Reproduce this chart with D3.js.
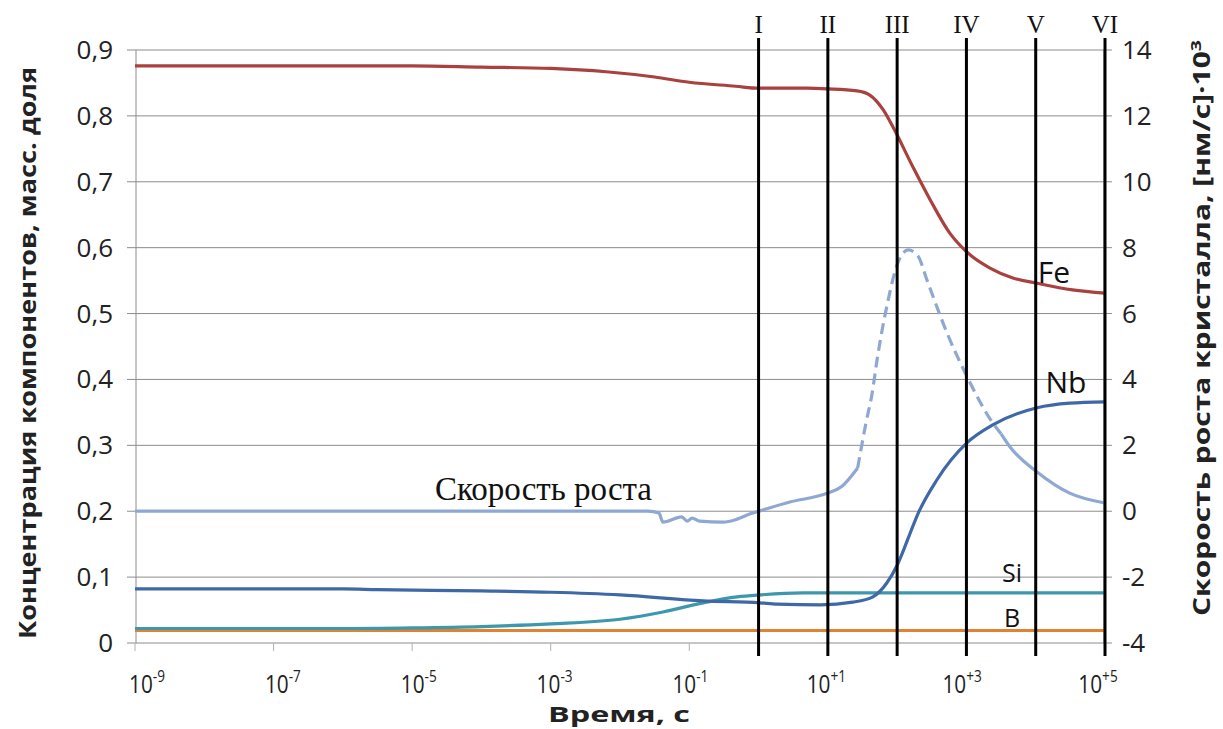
<!DOCTYPE html>
<html>
<head>
<meta charset="utf-8">
<script src="https://cdn.jsdelivr.net/npm/d3@7"></script>
<style>
  body { margin: 0; background: #fff; }
  svg { font-family: "Open Sans", "Noto Sans", sans-serif; }
</style>
</head>
<body>
<div id="chart"></div>
<script>
// Данные (время в виде показателя степени: t = 10^e)
const xTickExp = [-9, -7, -5, -3, -1, 1, 3, 5];
const xTickSup = ["-9", "-7", "-5", "-3", "-1", "+1", "+3", "+5"];
const yLeftTicks = [0, 0.1, 0.2, 0.3, 0.4, 0.5, 0.6, 0.7, 0.8, 0.9];
const yRightTicks = [-4, -2, 0, 2, 4, 6, 8, 10, 12, 14];

const stageNames = ["I", "II", "III", "IV", "V", "VI"];
const stageExp = [0, 1, 2, 3, 4, 5];

const feExp = [-9, -5, -4, -3, -2.2, -1.5, -1, -0.33, 0, 0.7, 1, 1.42, 1.6, 1.8, 1.94, 2.23, 2.48, 2.76, 3.01, 3.34, 3.67, 4.02, 4.53, 5];
const feVal = [0.876, 0.876, 0.874, 0.872, 0.867, 0.859, 0.851, 0.845, 0.842, 0.842, 0.841, 0.838, 0.832, 0.809, 0.783, 0.722, 0.672, 0.622, 0.593, 0.569, 0.554, 0.546, 0.536, 0.531];

const nbExp = [-9, -6, -5.5, -4, -3, -2, -0.8, 0.02, 0.27, 0.89, 1.36, 1.65, 1.85, 2.0, 2.1, 2.2, 2.3, 2.57, 3.01, 3.38, 4.02, 4.49, 5];
const nbVal = [0.082, 0.082, 0.081, 0.079, 0.077, 0.073, 0.064, 0.061, 0.059, 0.058, 0.062, 0.070, 0.091, 0.118, 0.143, 0.170, 0.196, 0.247, 0.304, 0.331, 0.357, 0.364, 0.366];

const siExp = [-9, -6, -5, -4, -3, -2, -1.38, -0.8, -0.31, 0.02, 0.64, 1, 2, 3, 4, 5];
const siVal = [0.022, 0.022, 0.023, 0.025, 0.029, 0.036, 0.047, 0.061, 0.070, 0.073, 0.076, 0.076, 0.076, 0.076, 0.076, 0.076];

const bExp = [-9, 5];
const bVal = [0.019, 0.019];

// Скорость роста (правая ось): сплошная, пунктир, сплошная
const speedExpA = [-9, -1.6, -1.44, -1.38, -1.11, -1.03, -0.96, -0.85, -0.51, -0.31, -0.12, 0.02, 0.45, 1.0, 1.2, 1.43];
const speedValA = [0, 0, -0.05, -0.33, -0.17, -0.3, -0.21, -0.3, -0.33, -0.24, -0.08, 0.01, 0.28, 0.55, 0.75, 1.31];
const speedExpB = [1.43, 1.55, 1.64, 1.71, 1.87, 2.01, 2.16, 2.3, 2.43, 2.72, 3.01, 3.38, 3.5];
const speedValB = [1.31, 2.68, 3.59, 4.59, 6.41, 7.54, 7.93, 7.75, 7.02, 5.41, 4.08, 2.68, 2.35];
const speedExpC = [3.5, 3.63, 4.02, 4.49, 5];
const speedValC = [2.35, 1.95, 1.19, 0.55, 0.25];

// Размеры
const width = 1223;
const height = 729;
const plotLeft = 135, plotRight = 1105, plotTop = 50, plotBottom = 643;

const svg = d3.select("#chart").append("svg")
  .attr("width", width)
  .attr("height", height);

const x = d3.scaleLog().domain([1e-9, 1e5]).range([plotLeft, plotRight]);
const yL = d3.scaleLinear().domain([0, 0.9]).range([plotBottom, plotTop]);
const yR = d3.scaleLinear().domain([-4, 14]).range([plotBottom, plotTop]);
// подписи оси X в исходнике расставлены чуть плотнее делений
const xLabelPos = d3.scaleLinear().domain([-9, 5]).range([147, 1098]);

// Сетка и оси
svg.append("g")
  .selectAll("line")
  .data(yLeftTicks)
  .enter()
  .append("line")
  .attr("x1", plotLeft - 8)
  .attr("x2", plotRight + 7)
  .attr("y1", d => yL(d))
  .attr("y2", d => yL(d))
  .attr("stroke", "#8c8c8c")
  .attr("stroke-width", 1);

svg.append("line")
  .attr("x1", plotLeft + 1).attr("x2", plotLeft + 1)
  .attr("y1", plotTop).attr("y2", plotBottom)
  .attr("stroke", "#8c8c8c");

svg.append("line")
  .attr("x1", plotRight - 1).attr("x2", plotRight - 1)
  .attr("y1", plotTop).attr("y2", plotBottom)
  .attr("stroke", "#8c8c8c");

svg.append("g")
  .selectAll("line")
  .data(xTickExp)
  .enter()
  .append("line")
  .attr("x1", d => x(Math.pow(10, d)))
  .attr("x2", d => x(Math.pow(10, d)))
  .attr("y1", plotBottom)
  .attr("y2", plotBottom + 8)
  .attr("stroke", "#b0b0b0");

// Подписи осей
svg.append("g")
  .selectAll("text")
  .data(yLeftTicks)
  .enter()
  .append("text")
  .attr("x", 113)
  .attr("y", d => yL(d) + 9)
  .attr("text-anchor", "end")
  .attr("font-size", 26)
  .attr("fill", "#222")
  .text(d => d === 0 ? "0" : String(d.toFixed(1)).replace(".", ","));

svg.append("g")
  .selectAll("text")
  .data(yRightTicks)
  .enter()
  .append("text")
  .attr("x", 1122)
  .attr("y", d => yR(d) + 9)
  .attr("text-anchor", "start")
  .attr("font-size", 26)
  .attr("fill", "#222")
  .text(d => d);

const xLab = svg.append("g")
  .selectAll("text")
  .data(xTickExp)
  .enter()
  .append("text")
  .attr("transform", d => `translate(${xLabelPos(d)},693) scale(0.8,1)`)
  .attr("text-anchor", "middle")
  .attr("font-size", 26)
  .attr("fill", "#222");
xLab.append("tspan").text("10");
xLab.append("tspan")
  .attr("dy", -11)
  .attr("font-size", 17)
  .text((d, i) => xTickSup[i]);

svg.append("text")
  .attr("x", 619)
  .attr("y", 722)
  .attr("text-anchor", "middle")
  .attr("font-size", 21)
  .attr("font-weight", "bold")
  .attr("fill", "#222")
  .attr("textLength", 142)
  .attr("lengthAdjust", "spacingAndGlyphs")
  .text("Время, с");

svg.append("text")
  .attr("transform", "translate(36,353) rotate(-90)")
  .attr("text-anchor", "middle")
  .attr("font-size", 23)
  .attr("font-weight", "bold")
  .attr("fill", "#222")
  .attr("textLength", 572)
  .attr("lengthAdjust", "spacingAndGlyphs")
  .text("Концентрация компонентов, масс. доля");

const rt = svg.append("text")
  .attr("transform", "translate(1210,328) rotate(-90)")
  .attr("text-anchor", "middle")
  .attr("font-size", 23)
  .attr("font-weight", "bold")
  .attr("fill", "#222")
  .attr("textLength", 576)
  .attr("lengthAdjust", "spacingAndGlyphs");
rt.append("tspan").text("Скорость роста кристалла, [нм/с]·10");
rt.append("tspan").attr("dy", -9).attr("font-size", 15).text("3");

// Линии серий
const lineL = d3.line()
  .x(d => x(Math.pow(10, d[0])))
  .y(d => yL(d[1]))
  .curve(d3.curveMonotoneX);

const lineR = d3.line()
  .x(d => x(Math.pow(10, d[0])))
  .y(d => yR(d[1]))
  .curve(d3.curveMonotoneX);

function draw(gen, xs, vs, color, dash) {
  svg.append("path")
    .datum(xs.map((e, i) => [e, vs[i]]))
    .attr("d", gen)
    .attr("fill", "none")
    .attr("stroke", color)
    .attr("stroke-width", 3.2)
    .attr("stroke-dasharray", dash || null);
}

draw(lineL, bExp, bVal, "#e0822f");
draw(lineL, siExp, siVal, "#3d97ad");
draw(lineL, nbExp, nbVal, "#3f69a6");
draw(lineL, feExp, feVal, "#a9413e");
draw(lineR, speedExpA, speedValA, "#8ea8d2");
draw(lineR, speedExpB, speedValB, "#8ea8d2", "11,6");
draw(lineR, speedExpC, speedValC, "#8ea8d2");

// Вертикальные линии стадий
svg.append("g")
  .selectAll("line")
  .data(stageExp)
  .enter()
  .append("line")
  .attr("x1", d => x(Math.pow(10, d)))
  .attr("x2", d => x(Math.pow(10, d)))
  .attr("y1", 38)
  .attr("y2", 656)
  .attr("stroke", "#000")
  .attr("stroke-width", 3);

svg.append("g")
  .selectAll("text")
  .data(stageNames)
  .enter()
  .append("text")
  .attr("x", (d, i) => x(Math.pow(10, stageExp[i])))
  .attr("y", 33)
  .attr("text-anchor", "middle")
  .attr("font-family", "'Liberation Serif', 'DejaVu Serif', serif")
  .attr("font-size", 25)
  .attr("fill", "#111")
  .text(d => d);

// Подписи серий
const labels = [
  { t: "Fe", x: 1054, y: 283, s: 30 },
  { t: "Nb", x: 1066, y: 393, s: 30 },
  { t: "Si", x: 1012, y: 582, s: 25 },
  { t: "B", x: 1012, y: 627, s: 25 }
];
svg.append("g")
  .selectAll("text")
  .data(labels)
  .enter()
  .append("text")
  .attr("x", d => d.x)
  .attr("y", d => d.y)
  .attr("text-anchor", "middle")
  .attr("font-size", d => d.s)
  .attr("fill", "#111")
  .text(d => d.t);

svg.append("text")
  .attr("x", 435)
  .attr("y", 500)
  .attr("font-family", "'Liberation Serif', 'DejaVu Serif', serif")
  .attr("font-size", 33)
  .attr("fill", "#111")
  .text("Скорость роста");
</script>
</body>
</html>
